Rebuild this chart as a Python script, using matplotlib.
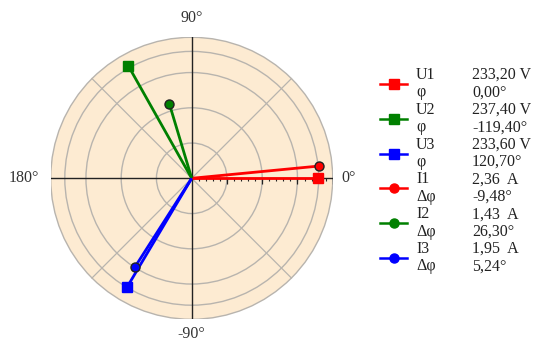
"""Phasor diagram: three-phase voltages and currents on a polar grid with legend."""

import numpy as np
import matplotlib
matplotlib.use("Agg")
import matplotlib.pyplot as plt
from matplotlib.patches import Circle

# --- data ---
phase_colors = ["#ff0000", "#008000", "#0000ff"]
u_names = ["U1", "U2", "U3"]
u_mag = [233.20, 237.40, 233.60]          # V
u_phi = [0.00, -119.40, 120.70]           # deg
i_names = ["I1", "I2", "I3"]
i_mag = [2.36, 1.43, 1.95]                # A
i_dphi = [-9.48, 26.30, 5.24]             # deg (legend values)
i_phi_drawn = [-5.5, -106.7, 122.6]       # deg

u_texts = ["233,20 V", "237,40 V", "233,60 V"]
u_phi_texts = ["0,00°", "-119,40°", "120,70°"]
i_texts = ["2,36  A", "1,43  A", "1,95  A"]
i_dphi_texts = ["-9,48°", "26,30°", "5,24°"]

V_FULL = 260.0   # voltage at outer circle
I_FULL = 2.6     # current at outer circle
rings = [0.25, 0.5, 0.75, 0.9]

W, H = 536, 341
fig = plt.figure(figsize=(W / 100, H / 100), dpi=100)
fig.patch.set_facecolor("white")
plt.rcParams["font.family"] = ["Liberation Serif", "DejaVu Serif"]

# diagram axes: centre at (191.7, 178.3) px, outer radius 141 px
cx, cy, R = 191.7, 178.3, 141.0
ax = fig.add_axes([(cx - R) / W, (H - cy - R) / H, 2 * R / W, 2 * R / H])
ax.set_xlim(-1, 1)
ax.set_ylim(-1, 1)
ax.set_aspect("equal")
ax.axis("off")

grid_c = "#b8b4ae"
ax.add_patch(Circle((0, 0), 1.0, facecolor="#fdebd2", edgecolor=grid_c, lw=1.0, zorder=0))
for r in rings:
    ax.add_patch(Circle((0, 0), r, facecolor="none", edgecolor=grid_c, lw=1.0, zorder=1))
for a in (45, 135):
    t = np.radians(a)
    ax.plot([-np.cos(t), np.cos(t)], [-np.sin(t), np.sin(t)], color=grid_c, lw=0.9, zorder=1)

# main axes cross
ax.plot([-1, 1], [0, 0], color="#222222", lw=1.0, zorder=2)
ax.plot([0, 0], [-1, 1], color="#222222", lw=1.0, zorder=2)

# scale ticks on the 0 deg axis
minor = np.arange(0.05, 1.001, 0.05)
major = np.arange(0.25, 1.001, 0.25)
ax.vlines(minor, -0.022, 0, color="#222222", lw=0.8, zorder=2)
ax.vlines(major, -0.04, 0, color="#222222", lw=0.9, zorder=2)

# vectors (diagram drawn with clockwise-positive phase)
for k in range(3):
    c = phase_colors[k]
    t = np.radians(-u_phi[k])
    r = u_mag[k] / V_FULL
    ax.plot([0, r * np.cos(t)], [0, r * np.sin(t)], color=c, lw=2.0, zorder=3,
            solid_capstyle="butt")
    ax.plot(r * np.cos(t), r * np.sin(t), marker="s", ms=7.5, color=c, mec=c,
            zorder=5, clip_on=False)
for k in range(3):
    c = phase_colors[k]
    t = np.radians(-i_phi_drawn[k])
    r = i_mag[k] / I_FULL
    ax.plot([0, r * np.cos(t)], [0, r * np.sin(t)], color=c, lw=2.0, zorder=3,
            solid_capstyle="butt")
    ax.plot(r * np.cos(t), r * np.sin(t), marker="o", ms=6.5, color=c, mec="#202020",
            mew=1.0, zorder=5, clip_on=False)

# angle labels
lab_c = "#333333"
fs_ang = 11.5
fig.text(cx / W, 1 - 18 / H, "90°", ha="center", va="center", fontsize=fs_ang, color=lab_c)
fig.text(cx / W, 1 - 334 / H, "-90°", ha="center", va="center", fontsize=fs_ang, color=lab_c)
fig.text(341 / W, 1 - cy / H, "0°", ha="left", va="center", fontsize=fs_ang, color=lab_c)
fig.text(39 / W, 1 - cy / H, "180°", ha="right", va="center", fontsize=fs_ang, color=lab_c)

# legend
leg = fig.add_axes([0, 0, 1, 1])
leg.set_xlim(0, W)
leg.set_ylim(H, 0)
leg.axis("off")

rows = []
for k in range(3):
    rows.append(("s", phase_colors[k], u_names[k], "φ", u_texts[k], u_phi_texts[k]))
for k in range(3):
    rows.append(("o", phase_colors[k], i_names[k], "Δφ", i_texts[k], i_dphi_texts[k]))

fs_leg = 11.5
for n, (mk, c, name, sub, val, sval) in enumerate(rows):
    y0 = 75 + 34.8 * n
    yh = y0 + 9
    leg.plot([380, 407], [yh, yh], color=c, lw=1.8)
    leg.plot(393.5, yh, marker=mk, ms=7.5 if mk == "s" else 6.5, color=c, mec=c)
    leg.text(416, y0, name, ha="left", va="center", fontsize=fs_leg, color="#222222")
    leg.text(416, y0 + 17.4, sub, ha="left", va="center", fontsize=fs_leg, color="#222222")
    leg.text(472, y0, val, ha="left", va="center", fontsize=fs_leg, color="#222222")
    leg.text(472, y0 + 17.4, sval, ha="left", va="center", fontsize=fs_leg, color="#222222")

fig.savefig("out.png", dpi=100)
plt.close(fig)
